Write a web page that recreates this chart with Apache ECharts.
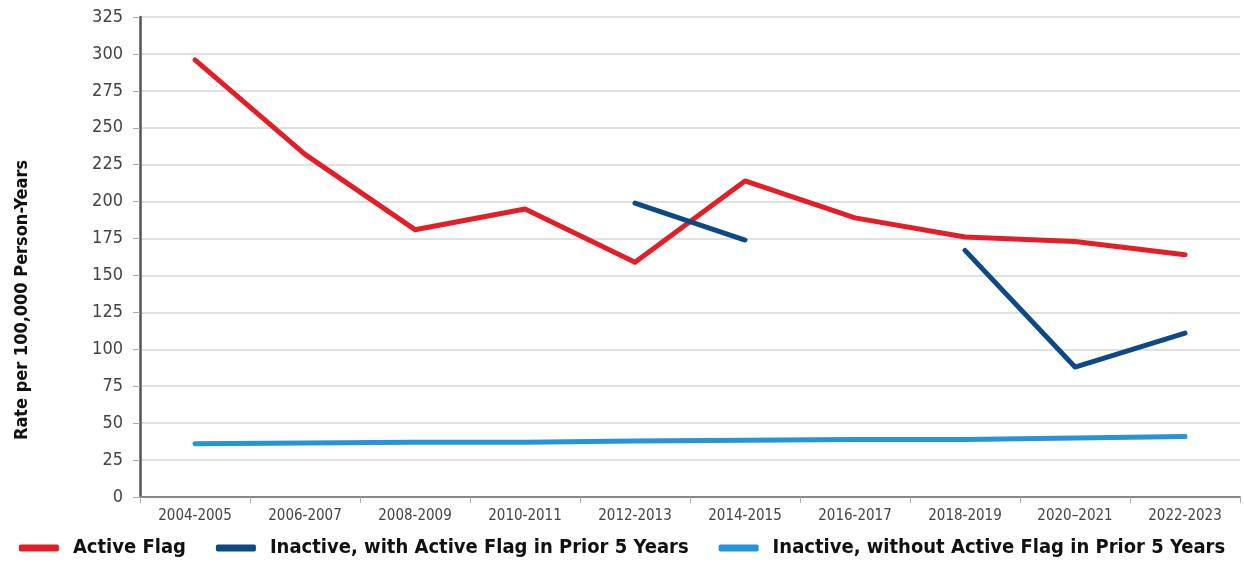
<!DOCTYPE html>
<html><head><meta charset="utf-8">
<script src="https://cdn.jsdelivr.net/npm/echarts@6/dist/echarts.min.js"></script>
<style>html,body{margin:0;padding:0;background:#fff}#c{width:1244px;height:564px}</style>
</head><body><div id="c"></div>
<script>
var categories = ['2004-2005','2006-2007','2008-2009','2010-2011','2012-2013','2014-2015','2016-2017','2018-2019','2020\u20132021','2022-2023'];
var activeFlag = [296, 232, 181, 195, 159, 214, 189, 176, 173, 164];
var inactiveWithFlag = [null, null, null, null, 199, 174, null, 167, 88, 111];
var inactiveWithoutFlag = [36, 36.5, 37, 37, 38, 38.5, 39, 39, 40, 41];
var yTicks = [0, 25, 50, 75, 100, 125, 150, 175, 200, 225, 250, 275, 300, 325];
var yTitle = 'Rate per 100,000 Person-Years';

var font = "'Liberation Sans Narrow', 'DejaVu Sans Condensed', 'Open Sans', sans-serif";
var chart = echarts.init(document.getElementById('c'));
function mk(name, data, color) {
  return {name: name, type: 'line', data: data, symbol: 'none', connectNulls: false,
    lineStyle: {width: 5, color: color, cap: 'round', join: 'round'}, itemStyle: {color: color}};
}
chart.setOption({
  animation: false,
  grid: {left: 140, right: 4, top: 17, bottom: 67},
  graphic: [{
    type: 'text', x: 22, y: 300, rotation: Math.PI / 2,
    style: {text: yTitle, fontFamily: font, fontWeight: 'bold', fontSize: 18, fill: '#111',
      align: 'center', verticalAlign: 'middle'}
  }],
  legend: {
    bottom: 1, left: 'center', itemWidth: 40, itemHeight: 7, itemGap: 30, icon: 'roundRect',
    textStyle: {fontFamily: font, fontWeight: 'bold', fontSize: 20, color: '#111', padding: [0, 0, 0, 9]},
    data: ['Active Flag', 'Inactive, with Active Flag in Prior 5 Years', 'Inactive, without Active Flag in Prior 5 Years']
  },
  xAxis: {
    type: 'category', data: categories, boundaryGap: true,
    axisLine: {lineStyle: {color: '#888', width: 2}},
    axisTick: {show: true, length: 6, lineStyle: {color: '#aaa'}},
    axisLabel: {fontFamily: font, fontSize: 15, color: '#444', margin: 12}
  },
  yAxis: {
    type: 'value', min: 0, max: 325, interval: 25,
    axisLine: {show: true, lineStyle: {color: '#555', width: 2.5}},
    axisTick: {show: true, length: 7, lineStyle: {color: '#aaa'}},
    axisLabel: {fontFamily: font, fontSize: 18, color: '#444', margin: 17,
      formatter: function (v) { return yTicks.indexOf(v) >= 0 ? String(v) : ''; }},
    splitLine: {lineStyle: {color: '#d6d6d6', width: 1.5}}
  },
  series: [
    mk('Active Flag', activeFlag, '#e31e26'),
    mk('Inactive, with Active Flag in Prior 5 Years', inactiveWithFlag, '#0d4a85'),
    mk('Inactive, without Active Flag in Prior 5 Years', inactiveWithoutFlag, '#2594d8')
  ]
});
</script></body></html>
